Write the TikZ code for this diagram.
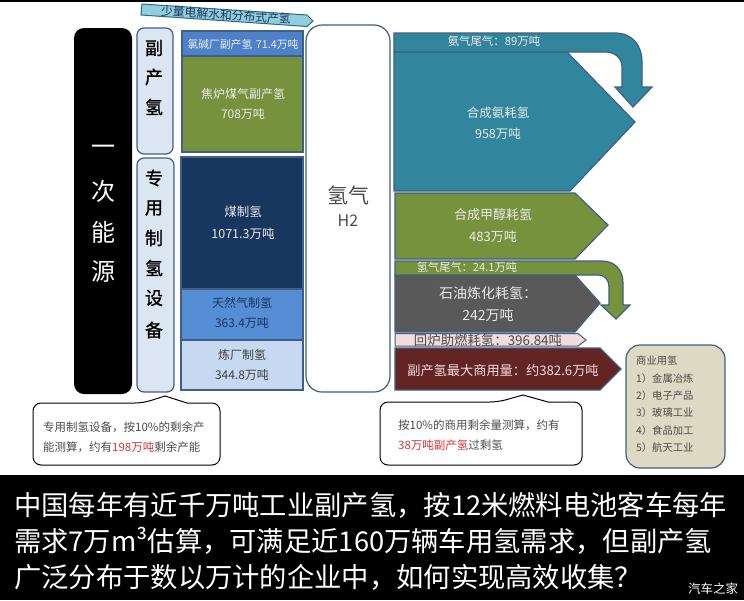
\documentclass[tikz,border=0pt]{standalone}
\usepackage{fontspec}
\setmainfont{Noto Sans CJK SC}
\newfontfamily\cjkb[FakeBold=1.2]{Noto Sans CJK SC}
\newcommand{\fsz}[1]{\fontsize{#1}{#1}\selectfont}
\definecolor{edgeblue}{HTML}{3F5F84}
\definecolor{chloro}{HTML}{4F81C9}
\definecolor{olive}{HTML}{76923C}
\definecolor{navy}{HTML}{17375E}
\definecolor{midblue}{HTML}{558ED5}
\definecolor{paleblue}{HTML}{C6D9F1}
\definecolor{sideblue}{HTML}{DCE6F2}
\definecolor{teal}{HTML}{31859C}
\definecolor{slate}{HTML}{595959}
\definecolor{pink}{HTML}{F2DCDB}
\definecolor{maroon}{HTML}{632523}
\definecolor{tan}{HTML}{DDD9C3}
\definecolor{skyb}{HTML}{93CDDD}
\definecolor{alert}{HTML}{D0393B}
\tikzset{
  shapeline/.style={draw=edgeblue,line width=1.2pt},
  sidebox/.style={shapeline,fill=sideblue,rounded corners=7pt},
  lab/.style={inner sep=0pt,align=center,font=\fsz{12}},
  wlab/.style={lab,text=white!92!black},
  sidech/.style={inner sep=0pt,font=\cjkb\fsz{18},text=black},
  srcch/.style={inner sep=0pt,font=\fsz{24},text=white},
  note/.style={draw=black,line width=1pt,fill=white,rounded corners=8pt},
  notetxt/.style={inner sep=0pt,anchor=west,font=\fsz{11.5},text=black!70},
  listtxt/.style={inner sep=0pt,anchor=west,font=\fsz{10.3},text=black!70},
  captxt/.style={inner sep=0pt,anchor=west,font=\fsz{27.3},text=white}
}
\begin{document}
\begin{tikzpicture}[x=1pt,y=-1pt]
\useasboundingbox (0,0) rectangle (744,600);
\fill[white] (0,0) rectangle (744,600);
\fill[black] (0,0) rectangle (744,1.5);
\fill[black] (0,475) rectangle (744,600);

% primary energy column
\fill[black,rounded corners=10pt] (74,28) rectangle (132,394);
\node[srcch] (s1) at (103,150) {一};
\node[srcch] (s2) at (103,191) {次};
\node[srcch] (s3) at (103,232) {能};
\node[srcch] (s4) at (103,272) {源};

% side labels
\draw[sidebox] (137,28) rectangle (173,154);
\node[sidech] (a1) at (154,48) {副};
\node[sidech] (a2) at (154,77) {产};
\node[sidech] (a3) at (154,107) {氢};
\draw[sidebox] (137,158) rectangle (174,392);
\node[sidech] (b1) at (154,178) {专};
\node[sidech] (b2) at (154,208) {用};
\node[sidech] (b3) at (154,238) {制};
\node[sidech] (b4) at (154,268) {氢};
\node[sidech] (b5) at (154,298) {设};
\node[sidech] (b6) at (154,330) {备};

% top slanted arrow
\draw[shapeline,line width=1pt,draw=teal!80!black,fill=skyb] (142,4) -- (307,15) -- (313,21) -- (307,26.5) -- (141,15) -- cycle;
\node[lab,rotate=-3.8,text=navy,font=\fsz{11.8}] (tiny) at (226,15) {少量电解水和分布式产氢};

% stacked sources
\draw[shapeline,fill=chloro] (182,31) rectangle (303,56);
\node[wlab,font=\fsz{10.8}] (c1) at (243,44) {氯碱厂副产氢\,\,71.4万吨};
\draw[shapeline,fill=olive] (182,56) rectangle (303,152);
\node[wlab] (c2) at (243,94) {焦炉煤气副产氢};
\node[wlab] (c3) at (243,114) {708万吨};
\draw[shapeline,fill=navy] (181,157) rectangle (303,289);
\node[wlab,font=\fsz{12.5}] (c4) at (243,212) {煤制氢};
\node[wlab,font=\fsz{12.5}] (c5) at (243,234) {1071.3万吨};
\draw[shapeline,fill=midblue] (181,289) rectangle (303,340);
\node[lab,text=navy] (c6) at (242,303) {天然气制氢};
\node[lab,text=navy] (c7) at (242,323) {363.4万吨};
\draw[shapeline,fill=paleblue] (181,340) rectangle (303,390);
\node[lab,text=black!75] (c8) at (242,355) {炼厂制氢};
\node[lab,text=black!75] (c9) at (242,375) {344.8万吨};

% hydrogen
\draw[shapeline,fill=white,rounded corners=16pt] (306,25) rectangle (390,392);
\node[lab,font=\fsz{21},text=black!70] (h1) at (348,195) {氢气};
\node[lab,font=\fsz{16},text=black!70] (h2) at (348,221) {H2};

% outputs
\draw[shapeline,fill=teal] (394,52) -- (567,52) -- (635,122) -- (570,191) -- (394,191) -- cycle;
\draw[shapeline,fill=teal] (394,33) -- (615,33) .. controls (632,33) and (642,45) .. (642,62) -- (642,87) -- (652,87) -- (633,107) -- (615,87) -- (622,87) -- (622,67) .. controls (622,58) and (615,52) .. (605,52) -- (394,52) -- cycle;
\node[wlab,font=\fsz{11.4}] (d1) at (494,41) {氨气尾气：89万吨};
\node[wlab,font=\fsz{12.5}] (d2) at (498,113) {合成氨耗氢};
\node[wlab,font=\fsz{12.5}] (d3) at (498,134) {958万吨};

\draw[shapeline,fill=olive] (395,193) -- (575,193) -- (608,225) -- (575,259) -- (395,259) -- cycle;
\node[wlab,font=\fsz{13}] (e1) at (493,215) {合成甲醇耗氢};
\node[wlab,font=\fsz{13}] (e2) at (493,237) {483万吨};

\draw[shapeline,fill=slate] (395,275) -- (575,275) -- (600,303) -- (575,332) -- (395,332) -- cycle;
\draw[shapeline,fill=olive] (395,261) -- (602,261) .. controls (615,261) and (623,270) .. (623,283) -- (623,305) -- (630,305) -- (616,319) -- (601,305) -- (609,305) -- (609,287) .. controls (609,280) and (605,275) .. (598,275) -- (395,275) -- cycle;
\node[wlab,font=\fsz{11.2}] (f1) at (467,267.5) {氢气尾气：24.1万吨};
\node[wlab,font=\fsz{14}] (f2) at (488,293) {石油炼化耗氢：};
\node[wlab,font=\fsz{14}] (f3) at (488,315) {242万吨};

\draw[shapeline,line width=1pt,fill=pink] (395,333.5) -- (578,333.5) -- (586,340) -- (578,346) -- (395,346) -- cycle;
\node[lab,font=\fsz{13.4},text=black!70] (g1) at (488,340) {回炉助燃耗氢：396.84吨};

\draw[shapeline,fill=maroon] (395,348) -- (600,348) -- (621,369) -- (600,390) -- (395,390) -- cycle;
\node[lab,font=\fsz{13.2},text=pink] (g2) at (503,370) {副产氢最大商用量：约382.6万吨};

% commercial uses
\draw[shapeline,fill=tan,rounded corners=14pt] (626,345) rectangle (725,468);
\node[listtxt] (l0) at (636,361) {商业用氢};
\node[listtxt] (l1) at (636,379) {1）金属冶炼};
\node[listtxt] (l2) at (636,396) {2）电子产品};
\node[listtxt] (l3) at (636,413) {3）玻璃工业};
\node[listtxt] (l4) at (636,431) {4）食品加工};
\node[listtxt] (l5) at (636,448) {5）航天工业};

% callouts
\draw[note] (33,403) -- (143,403) [sharp corners] -- (165,396) -- (187,403) [rounded corners=8pt] -- (220,403) -- (220,465) -- (33,465) -- cycle;
\node[notetxt] (n1) at (43,427) {专用制氢设备，按10\%的剩余产};
\node[notetxt] (n2) at (43,447) {能测算，约有\textcolor{alert}{198万吨}剩余产能};
\draw[note] (380,402) -- (498,402) [sharp corners] -- (523,395) -- (548,402) [rounded corners=8pt] -- (582,402) -- (582,465) -- (380,465) -- cycle;
\node[notetxt] (n3) at (398,425) {按10\%的商用剩余量测算，约有};
\node[notetxt] (n4) at (398,445) {\textcolor{alert}{38万吨副产氢}过剩氢};

% caption
\node[captxt] (t1) at (14,505) {中国每年有近千万吨工业副产氢，按12米燃料电池客车每年};
\node[captxt] (t2) at (14,541) {需求7万m³估算，可满足近160万辆车用氢需求，但副产氢};
\node[captxt] (t3) at (14,577) {广泛分布于数以万计的企业中，如何实现高效收集？};
\node[inner sep=0pt,font=\fsz{12.5},text=white] (w) at (713,589) {汽车之家};
\end{tikzpicture}
\end{document}
